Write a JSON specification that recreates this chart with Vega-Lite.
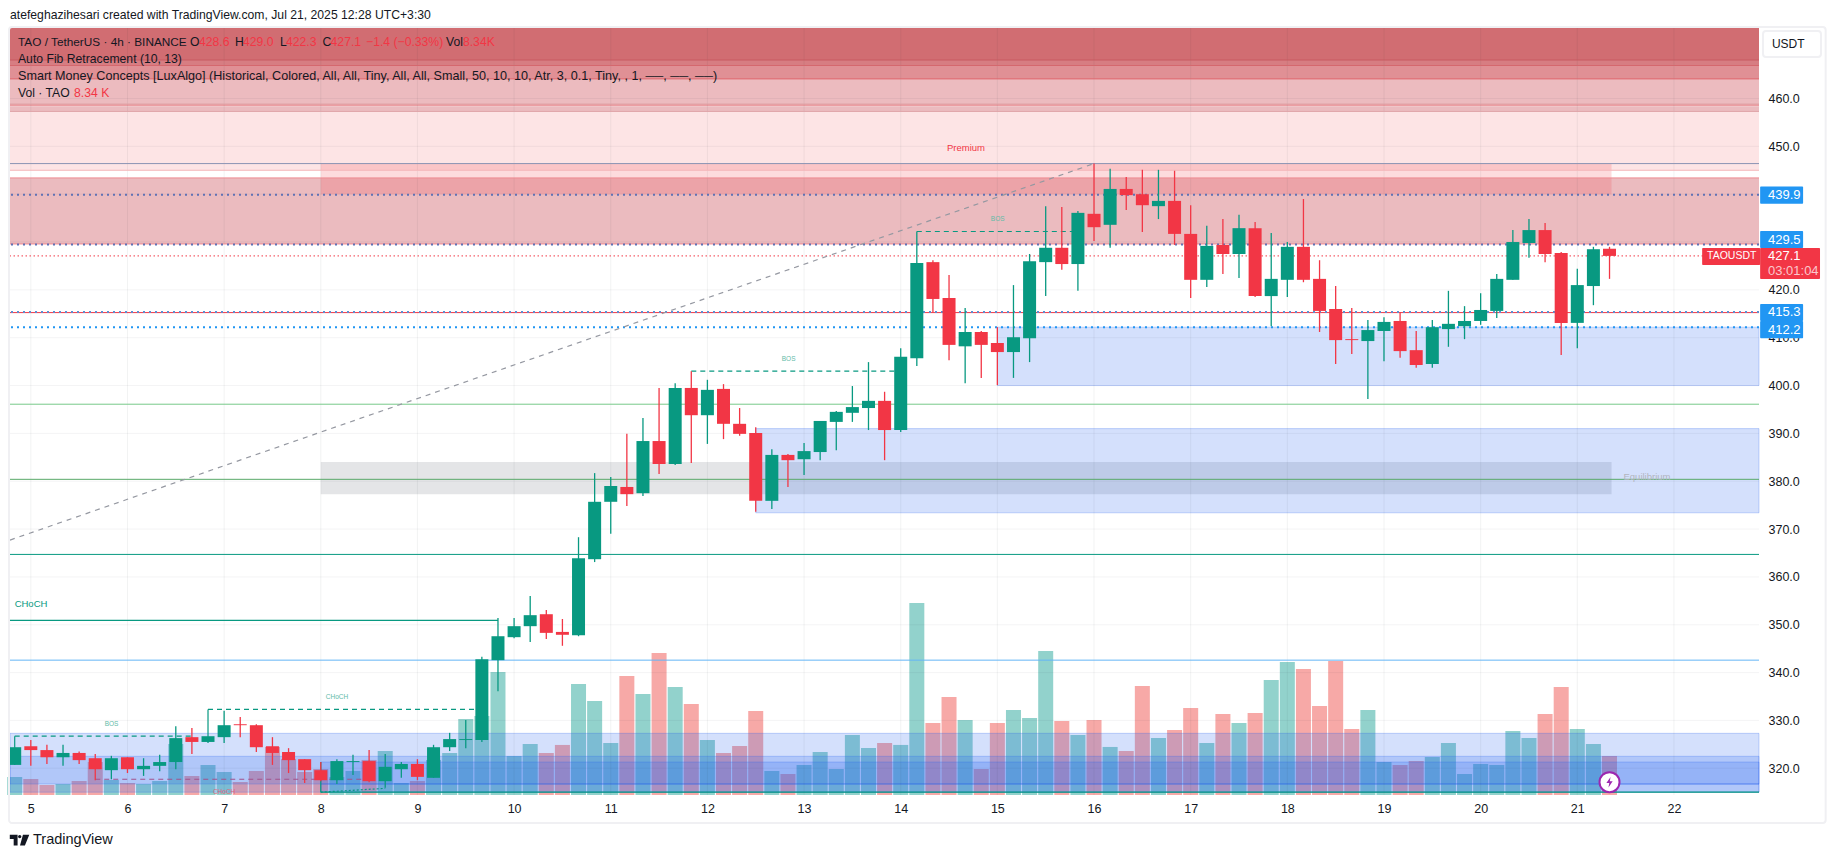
{
"$schema":"https://vega.github.io/schema/vega-lite/v6.json",
"autosize":{"type":"none"},
"width":1749,"height":768,
"padding":{"left":10,"top":27,"right":76,"bottom":63},
"background":"white",
"config":{"view":{"stroke":null},"font":"Liberation Sans"},
"datasets":{
"candles":[
{"t":"2025-07-04T20:00:00Z","o":320.7,"h":324.4,"l":320.7,"c":324.4,"v":3.85},
{"t":"2025-07-05T00:00:00Z","o":324.6,"h":325.9,"l":320.5,"c":323.8,"v":3.42},
{"t":"2025-07-05T04:00:00Z","o":323.8,"h":324.9,"l":320.9,"c":322.3,"v":2.14},
{"t":"2025-07-05T08:00:00Z","o":322.3,"h":324.9,"l":320.5,"c":323.2,"v":2.35},
{"t":"2025-07-05T12:00:00Z","o":323.2,"h":323.5,"l":320.9,"c":321.7,"v":2.99},
{"t":"2025-07-05T16:00:00Z","o":322.1,"h":323,"l":317.5,"c":319.8,"v":7.06},
{"t":"2025-07-05T20:00:00Z","o":319.6,"h":322.6,"l":317.7,"c":322.1,"v":3.21},
{"t":"2025-07-06T00:00:00Z","o":322.3,"h":322.3,"l":319,"c":319.8,"v":2.57},
{"t":"2025-07-06T04:00:00Z","o":319.8,"h":322.1,"l":318.4,"c":320.5,"v":2.35},
{"t":"2025-07-06T08:00:00Z","o":320.5,"h":322.8,"l":319.4,"c":321.3,"v":2.99},
{"t":"2025-07-06T12:00:00Z","o":321.3,"h":328.8,"l":319.8,"c":326.3,"v":10.91},
{"t":"2025-07-06T16:00:00Z","o":326.5,"h":328.4,"l":323,"c":325.5,"v":4.06},
{"t":"2025-07-06T20:00:00Z","o":325.5,"h":326.7,"l":325.3,"c":326.7,"v":6.42},
{"t":"2025-07-07T00:00:00Z","o":326.5,"h":332,"l":325.3,"c":329,"v":4.92},
{"t":"2025-07-07T04:00:00Z","o":329.2,"h":330.7,"l":326.5,"c":329,"v":2.78},
{"t":"2025-07-07T08:00:00Z","o":329,"h":329.2,"l":323.4,"c":324.4,"v":5.13},
{"t":"2025-07-07T12:00:00Z","o":324.6,"h":326.5,"l":320.7,"c":323.2,"v":10.27},
{"t":"2025-07-07T16:00:00Z","o":323.4,"h":324.2,"l":319,"c":321.7,"v":7.7},
{"t":"2025-07-07T20:00:00Z","o":321.9,"h":321.9,"l":316.9,"c":319.6,"v":4.92},
{"t":"2025-07-08T00:00:00Z","o":319.6,"h":321.3,"l":317.3,"c":317.5,"v":5.56},
{"t":"2025-07-08T04:00:00Z","o":317.5,"h":321.9,"l":316.7,"c":321.5,"v":3.85},
{"t":"2025-07-08T08:00:00Z","o":321.3,"h":322.8,"l":318.6,"c":321.5,"v":5.13},
{"t":"2025-07-08T12:00:00Z","o":321.5,"h":323.8,"l":317.1,"c":317.3,"v":7.49},
{"t":"2025-07-08T16:00:00Z","o":317.3,"h":323,"l":315.9,"c":320.3,"v":9.41},
{"t":"2025-07-08T20:00:00Z","o":319.8,"h":321.3,"l":318,"c":320.9,"v":2.57},
{"t":"2025-07-09T00:00:00Z","o":320.9,"h":321.9,"l":317.5,"c":318.2,"v":2.99},
{"t":"2025-07-09T04:00:00Z","o":318,"h":324.9,"l":318,"c":324.4,"v":7.49},
{"t":"2025-07-09T08:00:00Z","o":324.4,"h":327.4,"l":323.6,"c":326.1,"v":8.98},
{"t":"2025-07-09T12:00:00Z","o":325.9,"h":330.1,"l":324.2,"c":326.1,"v":16.26},
{"t":"2025-07-09T16:00:00Z","o":325.9,"h":343.3,"l":325.5,"c":342.8,"v":16.9},
{"t":"2025-07-09T20:00:00Z","o":342.6,"h":351.4,"l":336.1,"c":347.6,"v":26.31},
{"t":"2025-07-10T00:00:00Z","o":347.4,"h":351.4,"l":347.2,"c":349.7,"v":8.34},
{"t":"2025-07-10T04:00:00Z","o":349.7,"h":356,"l":346.4,"c":352,"v":10.91},
{"t":"2025-07-10T08:00:00Z","o":352.2,"h":353.1,"l":347,"c":348.3,"v":8.98},
{"t":"2025-07-10T12:00:00Z","o":348.5,"h":351.2,"l":345.6,"c":347.9,"v":10.7},
{"t":"2025-07-10T16:00:00Z","o":347.8,"h":368.3,"l":347.6,"c":363.9,"v":23.74},
{"t":"2025-07-10T20:00:00Z","o":363.7,"h":381.7,"l":363.1,"c":375.7,"v":20.11},
{"t":"2025-07-11T00:00:00Z","o":375.7,"h":380.9,"l":369,"c":379,"v":11.12},
{"t":"2025-07-11T04:00:00Z","o":378.8,"h":389.9,"l":374.8,"c":377.3,"v":25.45},
{"t":"2025-07-11T08:00:00Z","o":377.5,"h":393.2,"l":376.9,"c":388.4,"v":21.6},
{"t":"2025-07-11T12:00:00Z","o":388.4,"h":399.5,"l":381.5,"c":383.6,"v":30.37},
{"t":"2025-07-11T16:00:00Z","o":383.6,"h":400.5,"l":383.4,"c":399.5,"v":23.1},
{"t":"2025-07-11T20:00:00Z","o":399.5,"h":403,"l":383.8,"c":393.8,"v":19.46},
{"t":"2025-07-12T00:00:00Z","o":393.8,"h":401.2,"l":387.8,"c":399.1,"v":11.76},
{"t":"2025-07-12T04:00:00Z","o":399.3,"h":400.3,"l":388.8,"c":392,"v":8.98},
{"t":"2025-07-12T08:00:00Z","o":392,"h":395.3,"l":389.5,"c":389.9,"v":10.48},
{"t":"2025-07-12T12:00:00Z","o":390.1,"h":391.3,"l":373.6,"c":375.9,"v":17.97},
{"t":"2025-07-12T16:00:00Z","o":375.9,"h":386.7,"l":374.2,"c":385.5,"v":5.13},
{"t":"2025-07-12T20:00:00Z","o":385.5,"h":385.7,"l":378.8,"c":384.4,"v":4.49},
{"t":"2025-07-13T00:00:00Z","o":384.6,"h":388,"l":381.3,"c":386.3,"v":6.42},
{"t":"2025-07-13T04:00:00Z","o":386.1,"h":392.6,"l":384.4,"c":392.6,"v":9.2},
{"t":"2025-07-13T08:00:00Z","o":392.4,"h":394.7,"l":386.5,"c":394.5,"v":5.56},
{"t":"2025-07-13T12:00:00Z","o":394.3,"h":399.9,"l":392.4,"c":395.5,"v":12.83},
{"t":"2025-07-13T16:00:00Z","o":395.3,"h":404.9,"l":390.7,"c":396.8,"v":10.05},
{"t":"2025-07-13T20:00:00Z","o":396.8,"h":398.7,"l":384.4,"c":390.7,"v":11.12},
{"t":"2025-07-14T00:00:00Z","o":390.7,"h":407.8,"l":390.3,"c":406,"v":10.7},
{"t":"2025-07-14T04:00:00Z","o":405.7,"h":432.2,"l":404.1,"c":425.6,"v":41.07},
{"t":"2025-07-14T08:00:00Z","o":425.8,"h":426.2,"l":415.3,"c":418.1,"v":15.4},
{"t":"2025-07-14T12:00:00Z","o":418.3,"h":423.1,"l":405.3,"c":408.5,"v":20.96},
{"t":"2025-07-14T16:00:00Z","o":408.2,"h":416.2,"l":400.5,"c":411.2,"v":16.04},
{"t":"2025-07-14T20:00:00Z","o":411.2,"h":411.4,"l":401.6,"c":408.5,"v":5.56},
{"t":"2025-07-15T00:00:00Z","o":408.9,"h":412.2,"l":400.1,"c":407,"v":15.4},
{"t":"2025-07-15T04:00:00Z","o":407,"h":421,"l":401.6,"c":410.1,"v":18.18},
{"t":"2025-07-15T08:00:00Z","o":409.9,"h":427.5,"l":404.9,"c":426,"v":16.47},
{"t":"2025-07-15T12:00:00Z","o":425.8,"h":437.5,"l":418.7,"c":428.8,"v":30.8},
{"t":"2025-07-15T16:00:00Z","o":428.8,"h":437.3,"l":424.2,"c":425.4,"v":15.83},
{"t":"2025-07-15T20:00:00Z","o":425.4,"h":436.5,"l":419.8,"c":436.1,"v":12.83},
{"t":"2025-07-16T00:00:00Z","o":435.9,"h":446.4,"l":430.2,"c":433.1,"v":16.04},
{"t":"2025-07-16T04:00:00Z","o":433.6,"h":445.3,"l":428.8,"c":441.1,"v":10.27},
{"t":"2025-07-16T08:00:00Z","o":441.1,"h":443.6,"l":436.7,"c":439.8,"v":9.41},
{"t":"2025-07-16T12:00:00Z","o":440,"h":445.1,"l":432.1,"c":437.7,"v":23.32},
{"t":"2025-07-16T16:00:00Z","o":437.5,"h":445.1,"l":434.8,"c":438.6,"v":12.19},
{"t":"2025-07-16T20:00:00Z","o":438.6,"h":444.9,"l":429.4,"c":431.7,"v":13.9},
{"t":"2025-07-17T00:00:00Z","o":431.7,"h":437.7,"l":418.3,"c":422.1,"v":18.61},
{"t":"2025-07-17T04:00:00Z","o":422.1,"h":433.4,"l":420.6,"c":429.2,"v":11.12},
{"t":"2025-07-17T08:00:00Z","o":429.4,"h":434.8,"l":423.3,"c":427.5,"v":17.33},
{"t":"2025-07-17T12:00:00Z","o":427.5,"h":435.7,"l":422.5,"c":432.9,"v":15.4},
{"t":"2025-07-17T16:00:00Z","o":432.9,"h":434.2,"l":418.5,"c":418.7,"v":17.54},
{"t":"2025-07-17T20:00:00Z","o":418.7,"h":431.9,"l":412.4,"c":422.3,"v":24.6},
{"t":"2025-07-18T00:00:00Z","o":422.1,"h":430,"l":418.5,"c":429,"v":28.45},
{"t":"2025-07-18T04:00:00Z","o":429,"h":439,"l":421.6,"c":422.1,"v":26.95},
{"t":"2025-07-18T08:00:00Z","o":422.3,"h":426.2,"l":411.2,"c":415.6,"v":19.04},
{"t":"2025-07-18T12:00:00Z","o":416,"h":420.8,"l":404.5,"c":409.5,"v":28.66},
{"t":"2025-07-18T16:00:00Z","o":409.7,"h":416.2,"l":406.6,"c":409.5,"v":14.12},
{"t":"2025-07-18T20:00:00Z","o":409.3,"h":413.7,"l":397.2,"c":411.6,"v":18.18},
{"t":"2025-07-19T00:00:00Z","o":411.4,"h":414.3,"l":405.1,"c":413.3,"v":7.06},
{"t":"2025-07-19T04:00:00Z","o":413.5,"h":415.4,"l":405.8,"c":407.2,"v":6.42},
{"t":"2025-07-19T08:00:00Z","o":407.4,"h":411.4,"l":403.7,"c":404.3,"v":7.27},
{"t":"2025-07-19T12:00:00Z","o":404.5,"h":413.7,"l":403.7,"c":412.2,"v":8.13},
{"t":"2025-07-19T16:00:00Z","o":411.8,"h":419.8,"l":408.1,"c":412.9,"v":11.12},
{"t":"2025-07-19T20:00:00Z","o":412.4,"h":416.6,"l":409.7,"c":413.5,"v":4.49},
{"t":"2025-07-20T00:00:00Z","o":413.5,"h":419.3,"l":412.7,"c":415.8,"v":6.63},
{"t":"2025-07-20T04:00:00Z","o":415.6,"h":423.3,"l":414.1,"c":422.3,"v":6.42},
{"t":"2025-07-20T08:00:00Z","o":422.1,"h":432.5,"l":422.1,"c":430,"v":13.69},
{"t":"2025-07-20T12:00:00Z","o":429.8,"h":434.8,"l":426.7,"c":432.5,"v":12.19},
{"t":"2025-07-20T16:00:00Z","o":432.5,"h":434,"l":425.8,"c":427.5,"v":17.33},
{"t":"2025-07-20T20:00:00Z","o":427.7,"h":427.9,"l":406.4,"c":413.1,"v":23.1},
{"t":"2025-07-21T00:00:00Z","o":413.1,"h":424.4,"l":407.8,"c":421,"v":14.12},
{"t":"2025-07-21T04:00:00Z","o":420.8,"h":429,"l":416.8,"c":428.5,"v":10.91},
{"t":"2025-07-21T08:00:00Z","o":428.6,"h":429,"l":422.3,"c":427.1,"v":8.34}
],
"bands":[
{"zone":"a","t":"2025-07-04T18:50:00Z","t2":"2025-07-22T21:07:00Z","p":474.95,"p2":468.05},
{"zone":"b","t":"2025-07-04T18:50:00Z","t2":"2025-07-22T21:07:00Z","p":468.05,"p2":466.9},
{"zone":"c","t":"2025-07-04T18:50:00Z","t2":"2025-07-22T21:07:00Z","p":466.9,"p2":464.1},
{"zone":"d","t":"2025-07-04T18:50:00Z","t2":"2025-07-22T21:07:00Z","p":464.1,"p2":458.85},
{"zone":"e","t":"2025-07-04T18:50:00Z","t2":"2025-07-22T21:07:00Z","p":458.85,"p2":458.4},
{"zone":"f","t":"2025-07-04T18:50:00Z","t2":"2025-07-22T21:07:00Z","p":458.4,"p2":457.3},
{"zone":"g","t":"2025-07-04T18:50:00Z","t2":"2025-07-22T21:07:00Z","p":457.3,"p2":445},
{"zone":"h","t":"2025-07-04T18:50:00Z","t2":"2025-07-22T21:07:00Z","p":443.4,"p2":429.6},
{"zone":"premium","t":"2025-07-08T00:00:00Z","t2":"2025-07-21T08:30:00Z","p":446.4,"p2":440},
{"zone":"equilibrium","t":"2025-07-08T00:00:00Z","t2":"2025-07-21T08:30:00Z","p":384,"p2":377.3}
],
"demand":[
{"t":"2025-07-15T00:00:00Z","t2":"2025-07-22T21:07:00Z","p":412.2,"p2":400},
{"t":"2025-07-12T12:00:00Z","t2":"2025-07-22T21:07:00Z","p":391,"p2":373.4},
{"t":"2025-07-04T18:50:00Z","t2":"2025-07-22T21:07:00Z","p":327.3,"p2":315},
{"t":"2025-07-04T18:50:00Z","t2":"2025-07-22T21:07:00Z","p":322.5,"p2":316.7},
{"t":"2025-07-08T00:00:00Z","t2":"2025-07-22T21:07:00Z","p":321.3,"p2":316.7},
{"t":"2025-07-08T00:00:00Z","t2":"2025-07-22T21:07:00Z","p":316.7,"p2":315}
],
"gridT":[
{"t":"2025-07-05T00:00:00Z"},{"t":"2025-07-06T00:00:00Z"},{"t":"2025-07-07T00:00:00Z"},{"t":"2025-07-08T00:00:00Z"},{"t":"2025-07-09T00:00:00Z"},{"t":"2025-07-10T00:00:00Z"},{"t":"2025-07-11T00:00:00Z"},{"t":"2025-07-12T00:00:00Z"},{"t":"2025-07-13T00:00:00Z"},{"t":"2025-07-14T00:00:00Z"},{"t":"2025-07-15T00:00:00Z"},{"t":"2025-07-16T00:00:00Z"},{"t":"2025-07-17T00:00:00Z"},{"t":"2025-07-18T00:00:00Z"},{"t":"2025-07-19T00:00:00Z"},{"t":"2025-07-20T00:00:00Z"},{"t":"2025-07-21T00:00:00Z"},{"t":"2025-07-22T00:00:00Z"}
],
"gridP":[{"p":320},{"p":330},{"p":340},{"p":350},{"p":360},{"p":370},{"p":380},{"p":390},{"p":400},{"p":410},{"p":420},{"p":430},{"p":440},{"p":450},{"p":460}],
"levels":[
{"p":468.05,"kind":"band1"},{"p":466.9,"kind":"band2"},{"p":464.1,"kind":"band3"},{"p":458.85,"kind":"band4"},{"p":457.3,"kind":"band4"},
{"p":446.4,"kind":"top"},{"p":445,"kind":"band5"},{"p":443.4,"kind":"band6"},{"p":429.6,"kind":"band6"},
{"p":415.25,"kind":"red"},{"p":396.1,"kind":"green"},{"p":380.4,"kind":"mid"},{"p":364.7,"kind":"teal"},{"p":342.6,"kind":"sky"}
],
"dots":[
{"p":439.9,"kind":"fib"},{"p":429.5,"kind":"fib"},{"p":415.4,"kind":"fib2"},{"p":412.2,"kind":"fib3"}
],
"last":[{"p":427.1}],
"segments":[
{"kind":"diag","t":"2025-07-04T18:50:00Z","t2":"2025-07-16T00:00:00Z","p":367.7,"p2":446.4},
{"kind":"bullSolid","t":"2025-07-04T18:50:00Z","t2":"2025-07-09T20:00:00Z","p":350.9,"p2":350.9},
{"kind":"bullDash","t":"2025-07-04T20:00:00Z","t2":"2025-07-06T16:00:00Z","p":326.7,"p2":326.7},
{"kind":"bullSolid","t":"2025-07-04T20:00:00Z","t2":"2025-07-04T20:00:00Z","p":326.7,"p2":324.4},
{"kind":"bullDash","t":"2025-07-06T20:00:00Z","t2":"2025-07-09T16:00:00Z","p":332.3,"p2":332.3},
{"kind":"bullSolid","t":"2025-07-06T20:00:00Z","t2":"2025-07-06T20:00:00Z","p":332.3,"p2":326.7},
{"kind":"bearDash","t":"2025-07-05T16:00:00Z","t2":"2025-07-08T12:00:00Z","p":317.7,"p2":317.7},
{"kind":"bullDash","t":"2025-07-11T20:00:00Z","t2":"2025-07-14T00:00:00Z","p":403,"p2":403},
{"kind":"bullDash","t":"2025-07-14T04:00:00Z","t2":"2025-07-15T20:00:00Z","p":432.2,"p2":432.2},
{"kind":"bullDot","t":"2025-07-08T00:00:00Z","t2":"2025-07-08T16:00:00Z","p":315,"p2":315.8},
{"kind":"baseline","t":"2025-07-08T00:00:00Z","t2":"2025-07-22T21:07:00Z","p":315,"p2":315},
{"kind":"bullSolid","t":"2025-07-08T00:00:00Z","t2":"2025-07-08T00:00:00Z","p":315,"p2":321.3}
],
"texts":[
{"group":"head","label":"atefeghazihesari created with TradingView.com, Jul 21, 2025 12:28 UTC+3:30","t":"2025-07-04T18:50:00Z","p":477.45},
{"group":"ohlc","label":"TAO / TetherUS · 4h · BINANCE","t":"2025-07-04T20:49:00Z","p":471.87},
{"group":"legend","label":"O","t":"2025-07-06T15:32:00Z","p":471.87},
{"group":"value","label":"428.6","t":"2025-07-06T17:46:00Z","p":471.87},
{"group":"legend","label":"H","t":"2025-07-07T02:42:00Z","p":471.87},
{"group":"value","label":"429.0","t":"2025-07-07T04:41:00Z","p":471.87},
{"group":"legend","label":"L","t":"2025-07-07T13:53:00Z","p":471.87},
{"group":"value","label":"422.3","t":"2025-07-07T15:22:00Z","p":471.87},
{"group":"legend","label":"C","t":"2025-07-08T00:26:00Z","p":471.87},
{"group":"value","label":"427.1","t":"2025-07-08T02:26:00Z","p":471.87},
{"group":"value","label":"−1.4 (−0.33%)","t":"2025-07-08T11:14:00Z","p":471.87},
{"group":"legend","label":"Vol","t":"2025-07-09T07:06:00Z","p":471.87},
{"group":"value","label":"8.34K","t":"2025-07-09T11:18:00Z","p":471.87},
{"group":"legend","label":"Auto Fib Retracement (10, 13)","t":"2025-07-04T20:49:00Z","p":468.32},
{"group":"inputs","label":"Smart Money Concepts [LuxAlgo] (Historical, Colored, All, All, Tiny, All, All, Small, 50, 10, 10, Atr, 3, 0.1, Tiny, , 1, ──, ──, ──)","t":"2025-07-04T20:49:00Z","p":464.7},
{"group":"legend","label":"Vol · TAO","t":"2025-07-04T20:49:00Z","p":461.21},
{"group":"value","label":"8.34 K","t":"2025-07-05T10:44:00Z","p":461.21},
{"group":"box","label":"439.9","t":"2025-07-22T23:21:00Z","p":439.8},
{"group":"box","label":"429.5","t":"2025-07-22T23:21:00Z","p":430.5},
{"group":"box","label":"427.1","t":"2025-07-22T23:21:00Z","p":427},
{"group":"clock","label":"03:01:04","t":"2025-07-22T23:21:00Z","p":423.9},
{"group":"box","label":"415.3","t":"2025-07-22T23:21:00Z","p":415.3},
{"group":"box","label":"412.2","t":"2025-07-22T23:21:00Z","p":411.7},
{"group":"tag","label":"TAOUSDT","t":"2025-07-22T08:13:00Z","p":427},
{"group":"unit","label":"USDT","t":"2025-07-23T00:19:00Z","p":471.3},
{"group":"brand","label":"TradingView","t":"2025-07-05T00:33:00Z","p":304.9}
],
"notes":[
{"group":"big","label":"CHoCH","t":"2025-07-05T00:03:00Z","p":354.3},
{"group":"small","label":"BOS","t":"2025-07-05T20:02:00Z","p":329.2},
{"group":"small","label":"CHoCH","t":"2025-07-08T04:02:00Z","p":334.9},
{"group":"bear","label":"CHoCH","t":"2025-07-07T00:00:00Z","p":315.1},
{"group":"small","label":"BOS","t":"2025-07-12T20:10:00Z","p":405.5},
{"group":"small","label":"BOS","t":"2025-07-15T00:05:00Z","p":434.75},
{"group":"premium","label":"Premium","t":"2025-07-14T16:13:00Z","p":449.75},
{"group":"equilibrium","label":"Equilibrium","t":"2025-07-21T17:18:00Z","p":380.78}
],
"boxes":[
{"kind":"blue","t":"2025-07-22T21:24:00Z","t2":"2025-07-23T08:04:00Z","p":441.6,"p2":438},
{"kind":"blue","t":"2025-07-22T21:24:00Z","t2":"2025-07-23T08:04:00Z","p":432.3,"p2":428.75},
{"kind":"blue","t":"2025-07-22T21:24:00Z","t2":"2025-07-23T08:04:00Z","p":417.05,"p2":413.5},
{"kind":"blue","t":"2025-07-22T21:24:00Z","t2":"2025-07-23T08:04:00Z","p":413.5,"p2":409.9},
{"kind":"red","t":"2025-07-22T21:24:00Z","t2":"2025-07-23T12:16:00Z","p":428.75,"p2":422.27},
{"kind":"red","t":"2025-07-22T07:00:00Z","t2":"2025-07-22T21:24:00Z","p":428.75,"p2":425.2}
],
"frames":[
{"t":"2025-07-04T18:35:00Z","t2":"2025-07-23T13:40:00Z","p":474.95,"p2":308.56},
{"t":"2025-07-22T22:07:00Z","t2":"2025-07-23T12:30:00Z","p":474.1,"p2":468.67}
],
"badge":[{"t":"2025-07-21T08:00:00Z","p":317.1}],
"logo":[{"t":"2025-07-04T21:12:00Z","p":305}]
},
"resolve":{"scale":{"y":"independent"},"axis":{"y":"independent"}},
"layer":[
{
"data":{"name":"candles"},
"mark":{"type":"bar","size":15,"opacity":0.5},
"encoding":{
"x":{"field":"t","type":"temporal","title":null,
"scale":{"type":"utc","padding":0,"domain":["2025-07-04T18:50:00Z","2025-07-22T21:07:00Z"]},
"axis":{"format":"%-d","tickCount":{"interval":"day","step":1},"grid":false,"domain":false,"ticks":false,"labelPadding":7,"labelFontSize":12.5,"labelColor":"#131722","labelFlush":false,"labelOverlap":false}},
"y":{"field":"v","type":"quantitative","axis":null,"scale":{"domain":[0,164.2],"nice":false}},
"color":{"condition":{"test":"datum.c >= datum.o","value":"#26A69A"},"value":"#EF5350"}
}
},
{
"resolve":{"scale":{"color":"independent","size":"independent","strokeDash":"independent","shape":"independent"}},
"layer":[
{
"data":{"name":"bands"},
"mark":{"type":"rect"},
"encoding":{
"x":{"field":"t","type":"temporal","title":null},
"x2":{"field":"t2"},
"y":{"field":"p","type":"quantitative","title":null,
"scale":{"domain":[314.41,474.95],"nice":false,"zero":false},
"axis":{"orient":"right","values":[320,330,340,350,360,370,380,390,400,410,420,450,460],"format":".1f","grid":false,"domain":false,"ticks":false,"labelPadding":9,"labelFontSize":12.5,"labelColor":"#131722"}},
"y2":{"field":"p2"},
"color":{"field":"zone","type":"nominal","legend":null,
"scale":{"domain":["a","b","c","d","e","f","g","h","premium","equilibrium"],
"range":["#D16D72","#D77D82","#E09095","#ECBBBF","#EC9EA3","#EBBBBF","#FDE4E5","#EBBBBF","rgba(242,54,69,0.18)","rgba(120,123,134,0.2)"]}}
}
},
{
"data":{"name":"demand"},
"mark":{"type":"rect","fill":"#2962F0","fillOpacity":0.2,"stroke":"#2962F0","strokeOpacity":0.25,"strokeWidth":1},
"encoding":{
"x":{"field":"t","type":"temporal","title":null},
"x2":{"field":"t2"},
"y":{"field":"p","type":"quantitative","title":null},
"y2":{"field":"p2"}
}
},
{
"data":{"name":"gridT"},
"mark":{"type":"rule","stroke":"#2A2E39","strokeOpacity":0.06,"strokeWidth":1},
"encoding":{"x":{"field":"t","type":"temporal","title":null}}
},
{
"data":{"name":"gridP"},
"mark":{"type":"rule","stroke":"#2A2E39","strokeOpacity":0.05,"strokeWidth":1},
"encoding":{"y":{"field":"p","type":"quantitative","title":null}}
},
{
"data":{"name":"levels"},
"mark":{"type":"rule","strokeWidth":1},
"encoding":{
"y":{"field":"p","type":"quantitative","title":null},
"color":{"field":"kind","type":"nominal","legend":null,
"scale":{"domain":["band1","band2","band3","band4","band5","band6","top","red","green","mid","teal","sky"],
"range":["#C85A61","#D5686E","#E0696F","#DFA3A7","#F4B6B9","#EE8A90","#8A93B3","#F23645","#77C98A","#57A868","#089981","#64B5F6"]}}
}
},
{
"data":{"name":"dots"},
"mark":{"type":"rule","strokeWidth":2,"strokeDash":[2,4]},
"encoding":{
"y":{"field":"p","type":"quantitative","title":null},
"color":{"field":"kind","type":"nominal","legend":null,
"scale":{"domain":["fib","fib2","fib3"],"range":["#5F72B5","#5C8ED0","#2196F3"]}}
}
},
{
"data":{"name":"last"},
"mark":{"type":"rule","strokeWidth":1,"strokeDash":[1.5,2.5],"stroke":"#F23645"},
"encoding":{"y":{"field":"p","type":"quantitative","title":null}}
},
{
"data":{"name":"segments"},
"mark":{"type":"rule","strokeWidth":1.2},
"encoding":{
"x":{"field":"t","type":"temporal","title":null},
"x2":{"field":"t2"},
"y":{"field":"p","type":"quantitative","title":null},
"y2":{"field":"p2"},
"color":{"field":"kind","type":"nominal","legend":null,
"scale":{"domain":["diag","bullSolid","bullDash","bullDot","bearDash","baseline"],"range":["#9598A1","#089981","#089981","#089981","#A3528C","#089981"]}},
"strokeDash":{"field":"kind","type":"nominal","legend":null,
"scale":{"domain":["diag","bullSolid","bullDash","bullDot","bearDash","baseline"],"range":[[5,5],[1,0],[5,4],[2,2],[5,4],[1,0]]}}
}
},
{
"data":{"name":"candles"},
"mark":{"type":"rule","strokeWidth":1.3},
"encoding":{
"x":{"field":"t","type":"temporal","title":null},
"y":{"field":"h","type":"quantitative","title":null},
"y2":{"field":"l"},
"color":{"condition":{"test":"datum.c >= datum.o","value":"#089981"},"value":"#F23645"}
}
},
{
"data":{"name":"candles"},
"mark":{"type":"bar","size":13},
"encoding":{
"x":{"field":"t","type":"temporal","title":null},
"y":{"field":"o","type":"quantitative","title":null},
"y2":{"field":"c"},
"color":{"condition":{"test":"datum.c >= datum.o","value":"#089981"},"value":"#F23645"}
}
},
{
"data":{"name":"frames"},
"mark":{"type":"rect","filled":false,"fill":null,"stroke":"#F0F0F3","strokeWidth":2,"cornerRadius":3},
"encoding":{
"x":{"field":"t","type":"temporal","title":null},
"x2":{"field":"t2"},
"y":{"field":"p","type":"quantitative","title":null},
"y2":{"field":"p2"}
}
},
{
"data":{"name":"boxes"},
"mark":{"type":"rect","cornerRadius":1},
"encoding":{
"x":{"field":"t","type":"temporal","title":null},
"x2":{"field":"t2"},
"y":{"field":"p","type":"quantitative","title":null},
"y2":{"field":"p2"},
"color":{"field":"kind","type":"nominal","legend":null,"scale":{"domain":["blue","red"],"range":["#2196F3","#F23645"]}}
}
},
{
"data":{"name":"texts"},
"mark":{"type":"text","align":"left","baseline":"middle"},
"encoding":{
"x":{"field":"t","type":"temporal","title":null},
"y":{"field":"p","type":"quantitative","title":null},
"text":{"field":"label"},
"color":{"field":"group","type":"nominal","legend":null,
"scale":{"domain":["head","ohlc","legend","inputs","value","box","tag","clock","unit","brand"],"range":["#131722","#131722","#131722","#131722","#F23645","#FFFFFF","#FFFFFF","#FBC8CC","#131722","#131722"]}},
"size":{"field":"group","type":"nominal","legend":null,
"scale":{"type":"ordinal","domain":["head","ohlc","legend","inputs","value","box","tag","clock","unit","brand"],"range":[12.2,11.8,12.2,12.6,12.2,13,10.5,13,12,14.5]}}
}
},
{
"data":{"name":"notes"},
"mark":{"type":"text","align":"center","baseline":"middle"},
"encoding":{
"x":{"field":"t","type":"temporal","title":null},
"y":{"field":"p","type":"quantitative","title":null},
"text":{"field":"label"},
"color":{"field":"group","type":"nominal","legend":null,
"scale":{"domain":["big","small","bear","premium","equilibrium"],"range":["#089981","#5FBBA8","#E0697A","#F23645","#B2B5BE"]}},
"size":{"field":"group","type":"nominal","legend":null,
"scale":{"type":"ordinal","domain":["big","small","bear","premium","equilibrium"],"range":[9.5,6.5,6.5,9.5,9.5]}}
}
},
{
"data":{"name":"badge"},
"mark":{"type":"point","shape":"circle","filled":true,"fill":"white","stroke":"#9C27B0","strokeWidth":2,"size":400,"opacity":1},
"encoding":{
"x":{"field":"t","type":"temporal","title":null},
"y":{"field":"p","type":"quantitative","title":null}
}
},
{
"data":{"name":"badge"},
"mark":{"type":"point","shape":"M0.2,-1L-0.6,0.15L-0.05,0.15L-0.2,1L0.6,-0.15L0.05,-0.15Z","filled":true,"fill":"#9C27B0","stroke":null,"size":110,"opacity":1},
"encoding":{
"x":{"field":"t","type":"temporal","title":null},
"y":{"field":"p","type":"quantitative","title":null}
}
},
{
"data":{"name":"logo"},
"mark":{"type":"point","shape":"M-1,-0.55L-0.2,-0.55L-0.2,0.55L-0.6,0.55L-0.6,-0.1L-1,-0.1ZM-0.15,-0.35A0.17,0.17,0,1,0,0.19,-0.35A0.17,0.17,0,1,0,-0.15,-0.35ZM0.35,-0.55L1,-0.55L0.55,0.55L0.05,0.55Z","filled":true,"fill":"#131722","stroke":null,"size":380,"opacity":1},
"encoding":{
"x":{"field":"t","type":"temporal","title":null},
"y":{"field":"p","type":"quantitative","title":null}
}
}
]
}
]
}
